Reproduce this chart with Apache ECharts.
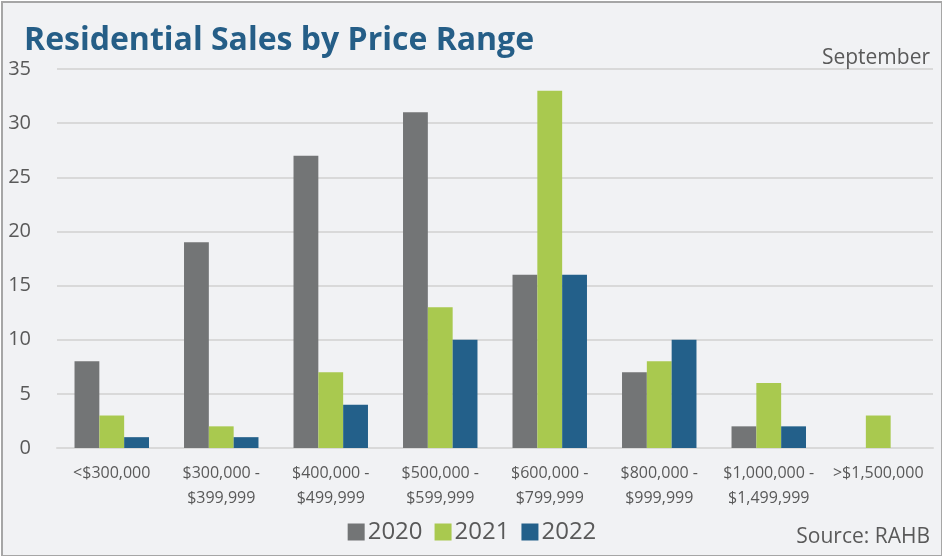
<!DOCTYPE html>
<html>
<head>
    <meta charset="utf-8">
    <title>Residential Sales by Price Range</title>
    <style type="text/css">
        html, body { margin: 0; padding: 0; background: #ffffff; }
        #main {
            position: absolute; left: 1px; top: 1px;
            width: 938px; height: 552px;
            border: 2px solid #a6a6a6;
            background: #f1f2f4;
        }
    </style>
    <script src="https://cdn.jsdelivr.net/npm/echarts@6/dist/echarts.min.js"></script>
</head>
<body>
<div id="main"></div>
<script type="text/javascript">
// categories and values
var categories = ['<$300,000', '$300,000 -\n$399,999', '$400,000 -\n$499,999', '$500,000 -\n$599,999',
                  '$600,000 -\n$799,999', '$800,000 -\n$999,999', '$1,000,000 -\n$1,499,999', '>$1,500,000'];
var sales2020 = [8, 19, 27, 31, 16, 7, 2, '-'];
var sales2021 = [3, 2, 7, 13, 33, 8, 6, 3];
var sales2022 = [1, 1, 4, 10, 16, 10, 2, '-'];
var yTicks = { min: 0, max: 35, interval: 5 };

var font = '"Open Sans", "Noto Sans", sans-serif';
var myChart = echarts.init(document.getElementById('main'));

var option = {
    color: ['#737576', '#a9c94f', '#23608a'],
    textStyle: { fontFamily: font },
    title: [{
        text: 'Residential Sales by Price Range',
        left: 16, top: 17,
        textStyle: { fontFamily: font, fontSize: 32, fontWeight: 'bold', color: '#255e87' }
    }, {
        text: 'September',
        right: 6, top: 40,
        textStyle: { fontFamily: font, fontSize: 21, fontWeight: 'normal', color: '#595959' }
    }, {
        text: 'Source: RAHB',
        right: 6, bottom: 2,
        textStyle: { fontFamily: font, fontSize: 21, fontWeight: 'normal', color: '#595959' }
    }],
    legend: {
        data: ['2020', '2021', '2022'],
        bottom: 6,
        left: 'center',
        itemWidth: 17, itemHeight: 17, itemGap: 12,
        icon: 'rect',
        textStyle: { fontFamily: font, fontSize: 24, color: '#595959', padding: [0, 0, 0, -2] }
    },
    grid: { left: 54, right: 8, top: 66, bottom: 107, outerBoundsMode: 'none', containLabel: false },
    xAxis: {
        type: 'category',
        data: categories,
        axisLine: { show: true, lineStyle: { color: '#d9d9d9', width: 2 } },
        axisTick: { show: false },
        axisLabel: { fontFamily: font, fontSize: 16, color: '#595959', lineHeight: 25, margin: 13, interval: 0 }
    },
    yAxis: {
        type: 'value',
        min: yTicks.min, max: yTicks.max, interval: yTicks.interval,
        axisLine: { show: false },
        axisTick: { show: false },
        splitLine: { lineStyle: { color: '#d9d9d9', width: 2 } },
        axisLabel: { fontFamily: font, fontSize: 20, color: '#595959', margin: 26, align: 'right' }
    },
    series: [
        { name: '2020', type: 'bar', data: sales2020, barGap: '0%', barCategoryGap: '32%' },
        { name: '2021', type: 'bar', data: sales2021, barGap: '0%', barCategoryGap: '32%' },
        { name: '2022', type: 'bar', data: sales2022, barGap: '0%', barCategoryGap: '32%' }
    ]
};

myChart.setOption(option);
</script>
</body>
</html>
